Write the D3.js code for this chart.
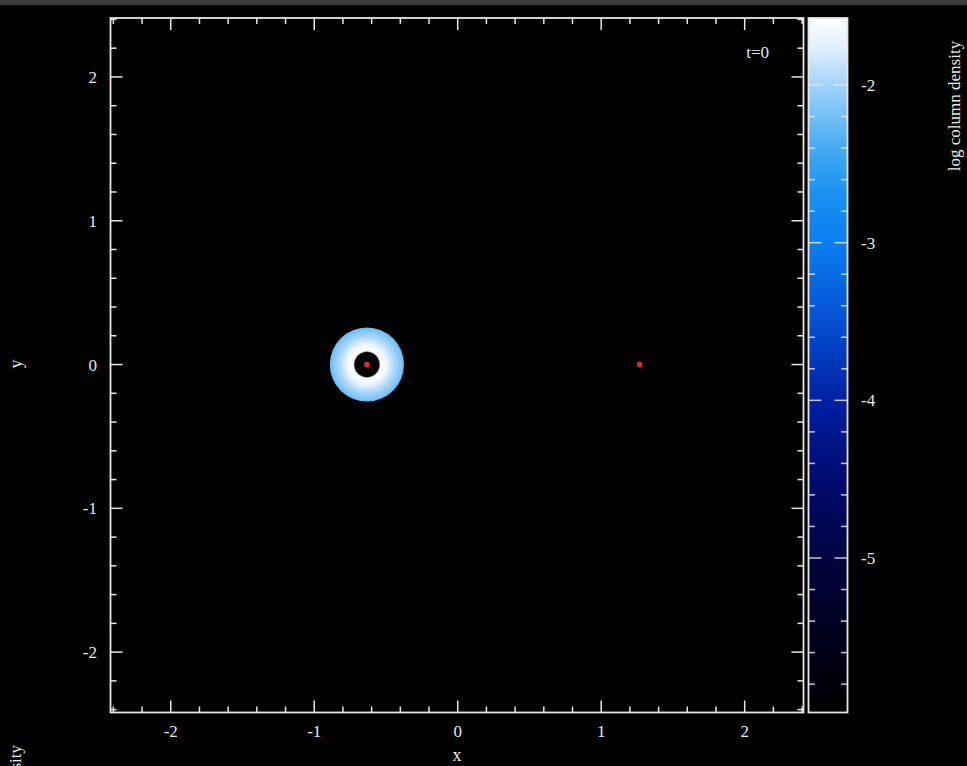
<!DOCTYPE html>
<html>
<head>
<meta charset="utf-8">
<script src="https://cdn.jsdelivr.net/npm/d3@7/dist/d3.min.js"></script>
<style>
  html, body { margin: 0; padding: 0; background: #000; }
  svg { display: block; }
  text { font-family: "Liberation Serif", "DejaVu Serif", serif; fill: #e8e8e8; }
</style>
</head>
<body>
<svg id="chart" width="967" height="766"></svg>
<script>
// ---- data ----
const xDomain = [-2.42, 2.41];
const yDomain = [-2.42, 2.41];
const majorTicks = [-2, -1, 0, 1, 2];
const cbDomain = [-5.98, -1.575];
const cbMajorTicks = [-5, -4, -3, -2];
const timeLabel = "t=0";
const cbLabel = "log column density";

// colour map: log column density -> colour
const cmapValues = [-5.98, -5.5, -5.0, -4.5, -4.0, -3.5, -3.0, -2.7, -2.4, -2.0, -1.8, -1.575];
const cmapColors = ["#000000", "#00001c", "#000540", "#000a70", "#0020a4", "#0450d2", "#0a7ff0", "#1890f2", "#44aaf2", "#a2d4f8", "#d8ecfc", "#ffffff"];

// sink particles (binary)
const sinkX = [-0.633, 1.267];
const sinkY = [0, 0];

// disc around the primary: radial profile of log column density
const discCentre = [-0.633, 0];
const discRadius = [0.094, 0.108, 0.125, 0.145, 0.165, 0.19, 0.215, 0.24, 0.255];
const discLogSigma = [-1.64, -1.6, -1.63, -1.72, -1.84, -1.96, -2.05, -2.14, -2.25];

// ---- layout ----
const svg = d3.select("#chart");
const W = 967, H = 766;
const plot = { left: 110.5, right: 803.5, top: 18, bottom: 712.5 };
const cb = { left: 808.5, right: 847.5, top: 18, bottom: 712.5 };

svg.append("rect").attr("width", W).attr("height", H).attr("fill", "#000");
svg.append("rect").attr("width", W).attr("height", 5).attr("fill", "#3a3a3a");

const x = d3.scaleLinear().domain(xDomain).range([plot.left, plot.right]);
const y = d3.scaleLinear().domain(yDomain).range([plot.bottom, plot.top]);
const cbScale = d3.scaleLinear().domain(cbDomain).range([cb.bottom, cb.top]);
const cmap = d3.scaleLinear().domain(cmapValues).range(cmapColors).interpolate(d3.interpolateRgb).clamp(true);

const defs = svg.append("defs");

// ---- disc ----
const rMax = discRadius[discRadius.length - 1];
const rOuterPx = x(discCentre[0] + rMax) - x(discCentre[0]);
const grad = defs.append("radialGradient").attr("id", "discGrad")
  .attr("gradientUnits", "userSpaceOnUse")
  .attr("cx", x(discCentre[0])).attr("cy", y(discCentre[1])).attr("r", rOuterPx);
// central cavity is empty
grad.append("stop").attr("offset", 0).attr("stop-color", "#000");
grad.append("stop").attr("offset", discRadius[0] / rMax - 0.04).attr("stop-color", "#000");
discRadius.forEach((r, i) => {
  grad.append("stop")
    .attr("offset", r / rMax)
    .attr("stop-color", cmap(discLogSigma[i]));
});

// slight softening of the smoothed particle edges
const soft = defs.append("filter").attr("id", "soft").attr("x", "-10%").attr("y", "-10%").attr("width", "120%").attr("height", "120%");
soft.append("feGaussianBlur").attr("stdDeviation", 0.7);

svg.append("circle")
  .attr("cx", x(discCentre[0])).attr("cy", y(discCentre[1]))
  .attr("r", rOuterPx + 0.5)
  .attr("fill", "url(#discGrad)")
  .attr("filter", "url(#soft)");

// ---- sinks ----
svg.selectAll("circle.sink").data(sinkX).join("circle")
  .attr("class", "sink")
  .attr("cx", d => x(d)).attr("cy", (d, i) => y(sinkY[i]))
  .attr("r", 2.8).attr("fill", "#e8252a");

// ---- frame and ticks ----
const axisColor = "#e6e6e6";
const minorX = d3.range(-24, 25).map(d => d / 10).filter(d => Math.abs(Math.round(d * 10) % 2) === 0 && d >= xDomain[0] && d <= xDomain[1]);
const minorY = minorX.filter(d => d >= yDomain[0] && d <= yDomain[1]);
const isMajor = d => Math.abs(d - Math.round(d)) < 1e-6;
const tickG = svg.append("g").attr("stroke", axisColor).attr("stroke-width", 1.5);

minorX.forEach(d => {
  const L = isMajor(d) ? 12 : 6;
  tickG.append("line").attr("x1", x(d)).attr("x2", x(d)).attr("y1", plot.bottom).attr("y2", plot.bottom - L);
  tickG.append("line").attr("x1", x(d)).attr("x2", x(d)).attr("y1", plot.top).attr("y2", plot.top + L);
});
minorY.forEach(d => {
  const L = isMajor(d) ? 12 : 6;
  tickG.append("line").attr("y1", y(d)).attr("y2", y(d)).attr("x1", plot.left).attr("x2", plot.left + L);
  tickG.append("line").attr("y1", y(d)).attr("y2", y(d)).attr("x1", plot.right).attr("x2", plot.right - L);
});
svg.append("rect")
  .attr("x", plot.left).attr("y", plot.top)
  .attr("width", plot.right - plot.left).attr("height", plot.bottom - plot.top)
  .attr("fill", "none").attr("stroke", axisColor).attr("stroke-width", 1.8);

// tick labels
svg.append("g").selectAll("text").data(majorTicks).join("text")
  .attr("x", d => x(d)).attr("y", 737)
  .attr("text-anchor", "middle").attr("font-size", 17)
  .text(d => d);
svg.append("g").selectAll("text").data(majorTicks).join("text")
  .attr("x", 97).attr("y", d => y(d) + 6)
  .attr("text-anchor", "end").attr("font-size", 17)
  .text(d => d);

// axis labels
svg.append("text").attr("x", 457).attr("y", 761).attr("text-anchor", "middle").attr("font-size", 18).text("x");
svg.append("text").attr("transform", "translate(22,364) rotate(-90)").attr("text-anchor", "middle").attr("font-size", 18).text("y");
svg.append("text").attr("x", 769).attr("y", 58).attr("text-anchor", "end").attr("font-size", 17).text(timeLabel);

// ---- colour bar ----
const cbGrad = defs.append("linearGradient").attr("id", "cbGrad")
  .attr("x1", 0).attr("y1", 1).attr("x2", 0).attr("y2", 0);
d3.range(0, 41).forEach(i => {
  const v = cbDomain[0] + (cbDomain[1] - cbDomain[0]) * i / 40;
  cbGrad.append("stop").attr("offset", i / 40).attr("stop-color", cmap(v));
});
svg.append("rect")
  .attr("x", cb.left).attr("y", cb.top)
  .attr("width", cb.right - cb.left).attr("height", cb.bottom - cb.top)
  .attr("fill", "url(#cbGrad)");

const cbMinor = d3.range(-59, -15).map(d => d / 10).filter(d => d >= cbDomain[0] && d <= cbDomain[1] && Math.abs(Math.round(d * 10) % 2) === 0);
const cbTicks = svg.append("g").attr("stroke", "#dfe8f4").attr("stroke-opacity", 0.85).attr("stroke-width", 1.5);
cbMinor.forEach(d => {
  const L = isMajor(d) ? 13 : 6.5;
  cbTicks.append("line").attr("x1", cb.left).attr("x2", cb.left + L).attr("y1", cbScale(d)).attr("y2", cbScale(d));
  cbTicks.append("line").attr("x1", cb.right).attr("x2", cb.right - L).attr("y1", cbScale(d)).attr("y2", cbScale(d));
});
svg.append("rect")
  .attr("x", cb.left).attr("y", cb.top)
  .attr("width", cb.right - cb.left).attr("height", cb.bottom - cb.top)
  .attr("fill", "none").attr("stroke", axisColor).attr("stroke-width", 1.8);

svg.append("g").selectAll("text").data(cbMajorTicks).join("text")
  .attr("x", 861).attr("y", d => cbScale(d) + 6)
  .attr("text-anchor", "start").attr("font-size", 17)
  .text(d => d);

svg.append("text").attr("transform", "translate(960,106) rotate(-90)")
  .attr("text-anchor", "middle").attr("font-size", 17).text(cbLabel);

// neighbouring panel's colour-bar label, running off the lower edge
svg.append("text").attr("transform", "translate(21,745) rotate(-90)")
  .attr("text-anchor", "end").attr("font-size", 17).text(cbLabel);
</script>
</body>
</html>
